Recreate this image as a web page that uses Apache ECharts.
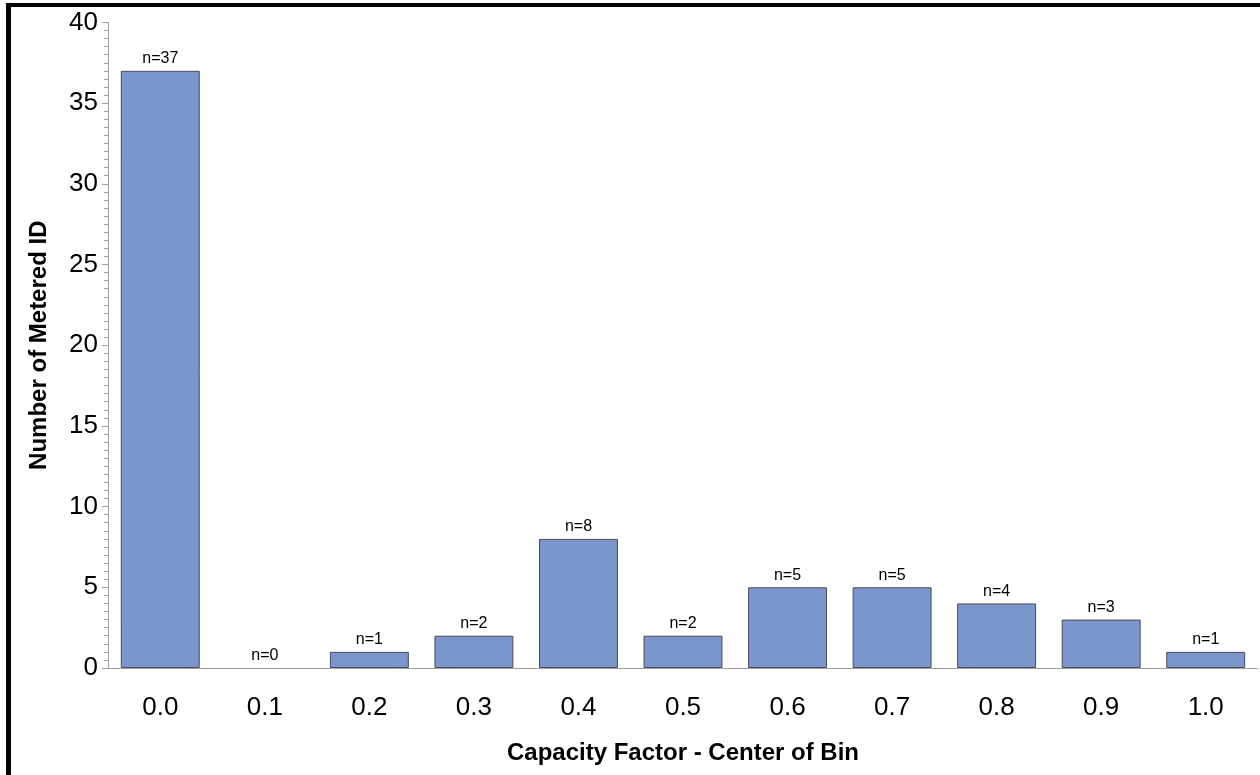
<!DOCTYPE html>
<html>
<head>
<meta charset="utf-8">
<script src="https://cdn.jsdelivr.net/npm/echarts@6/dist/echarts.min.js"></script>
<style>
html,body{margin:0;padding:0;background:#fff;}
#wrap{position:relative;width:1260px;height:775px;overflow:hidden;}
#chart{position:absolute;left:0;top:0;width:1260px;height:775px;}
#frame{position:absolute;left:6px;top:3px;width:1249px;height:800px;border-left:5px solid #000;border-top:4px solid #000;border-right:3px solid #000;pointer-events:none;}
</style>
</head>
<body>
<div id="wrap"><div id="chart"></div><div id="frame"></div></div>
<script>
const categories = ['0.0','0.1','0.2','0.3','0.4','0.5','0.6','0.7','0.8','0.9','1.0'];
const counts = [37, 0, 1, 2, 8, 2, 5, 5, 4, 3, 1];
const yTicks = [0, 5, 10, 15, 20, 25, 30, 35, 40];

const chart = echarts.init(document.getElementById('chart'));
chart.setOption({
  animation: false,
  backgroundColor: '#fff',
  grid: { left: 108, top: 22.4, width: 1150, height: 645.6, containLabel: false },
  xAxis: {
    type: 'category',
    data: categories,
    name: 'Capacity Factor - Center of Bin',
    nameLocation: 'middle',
    nameGap: 73,
    nameTextStyle: { fontFamily: 'Liberation Sans', fontSize: 24, fontWeight: 'bold', color: '#000' },
    axisLine: { lineStyle: { color: '#a0a0a0', width: 1 } },
    axisTick: { show: false },
    axisLabel: { fontFamily: 'Liberation Sans', fontSize: 26, color: '#000', margin: 27 },
    splitLine: { show: false }
  },
  yAxis: {
    type: 'value',
    min: yTicks[0],
    max: yTicks[yTicks.length - 1],
    interval: yTicks[1] - yTicks[0],
    name: 'Number of Metered ID',
    nameLocation: 'middle',
    nameGap: 57,
    nameTextStyle: { fontFamily: 'Liberation Sans', fontSize: 24, fontWeight: 'bold', color: '#000' },
    axisLine: { show: true, lineStyle: { color: '#a0a0a0', width: 1 } },
    axisTick: { show: true, length: 6, lineStyle: { color: '#a0a0a0' } },
    minorTick: { show: true, splitNumber: 10, length: 4, lineStyle: { color: '#a0a0a0' } },
    axisLabel: { fontFamily: 'Liberation Sans', fontSize: 26, color: '#000', margin: 10 },
    splitLine: { show: false }
  },
  series: [{
    type: 'bar',
    data: counts.map(v => ({ value: v, itemStyle: { borderWidth: v === 0 ? 0 : 1 } })),
    barCategoryGap: '24.5%',
    itemStyle: { color: '#7b96cd', borderColor: '#4a4a5a', borderWidth: 1 },
    label: {
      show: true,
      position: 'top',
      distance: 4,
      formatter: p => 'n=' + p.value,
      fontFamily: 'Liberation Sans',
      fontSize: 16,
      color: '#000'
    }
  }]
});
</script>
</body>
</html>
